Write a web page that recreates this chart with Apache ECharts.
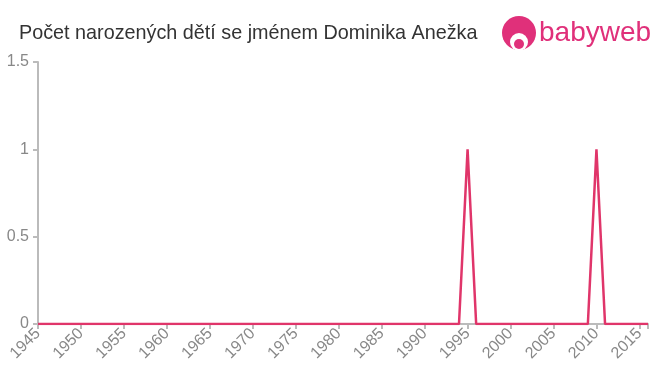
<!DOCTYPE html>
<html><head><meta charset="utf-8">
<script src="https://cdn.jsdelivr.net/npm/echarts@6/dist/echarts.min.js"></script>
<style>html,body{margin:0;padding:0;background:#fff}#c{width:660px;height:375px}</style>
</head><body><div id="c"></div>
<script>
const titleText = "Počet narozených dětí se jménem Dominika Anežka";
const years = [1945,1946,1947,1948,1949,1950,1951,1952,1953,1954,1955,1956,1957,1958,1959,1960,1961,1962,1963,1964,1965,1966,1967,1968,1969,1970,1971,1972,1973,1974,1975,1976,1977,1978,1979,1980,1981,1982,1983,1984,1985,1986,1987,1988,1989,1990,1991,1992,1993,1994,1995,1996,1997,1998,1999,2000,2001,2002,2003,2004,2005,2006,2007,2008,2009,2010,2011,2012,2013,2014,2015,2016];
const counts = [0,0,0,0,0,0,0,0,0,0,0,0,0,0,0,0,0,0,0,0,0,0,0,0,0,0,0,0,0,0,0,0,0,0,0,0,0,0,0,0,0,0,0,0,0,0,0,0,0,0,1,0,0,0,0,0,0,0,0,0,0,0,0,0,0,1,0,0,0,0,0,0];
const yTicks = [0, 0.5, 1, 1.5];

const chart = echarts.init(document.getElementById('c'), null, {renderer:'canvas'});
chart.setOption({
  animation:false,
  title:{text:titleText,left:19,top:24,padding:0,textStyle:{fontFamily:'Liberation Sans, Arial, sans-serif',fontSize:19.8,fontWeight:'normal',color:'#333'}},
  graphic:[
    {type:'circle',shape:{cx:519,cy:33,r:17},style:{fill:'#e0307a'}},
    {type:'circle',shape:{cx:519,cy:42,r:9},style:{fill:'#fff'}},
    {type:'circle',shape:{cx:519,cy:44,r:5},style:{fill:'#e0307a'}},
    {type:'text',left:539,top:19,style:{text:'babyweb',fill:'#e0307a',font:'28px "Liberation Sans", Arial, sans-serif'}}
  ],
  grid:{left:38,right:12,top:62,bottom:51},
  xAxis:{type:'value',min:1945,max:2016,interval:5,
    axisLine:{lineStyle:{color:'#bbb',width:2}},
    axisTick:{lineStyle:{color:'#bbb',width:2},length:5},
    splitLine:{show:false},
    axisLabel:{rotate:45,color:'#888',fontSize:16,fontFamily:'Liberation Sans, Arial, sans-serif',margin:7,
      formatter:v=> (v%5===0 && v<=2015) ? String(v) : ''}},
  yAxis:{type:'value',min:0,max:1.5,interval:0.5,
    axisLine:{show:true,lineStyle:{color:'#bbb',width:2}},
    axisTick:{show:true,lineStyle:{color:'#bbb',width:2},length:5},
    splitLine:{show:false},
    axisLabel:{color:'#888',fontSize:16,fontFamily:'Liberation Sans, Arial, sans-serif',margin:9,
      formatter:v=> yTicks.includes(v) ? String(v) : ''}},
  series:[{type:'line',data:years.map((y,i)=>[y,counts[i]]),symbol:'none',
    lineStyle:{color:'#e0356a',width:2.5}}]
});
</script></body></html>
